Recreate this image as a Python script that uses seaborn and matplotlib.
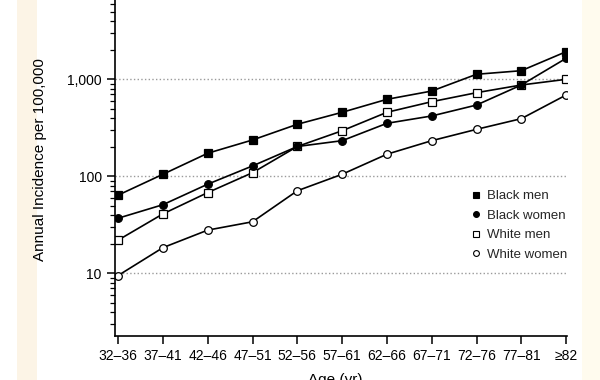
import pandas as pd
import matplotlib
matplotlib.use('Agg')
import matplotlib.pyplot as plt
import seaborn as sns
from matplotlib.lines import Line2D
from matplotlib.patches import Rectangle
from matplotlib.ticker import FixedLocator, FuncFormatter, LogLocator, NullFormatter

# data (annual incidence per 100,000)
ages = ['32–36', '37–41', '42–46', '47–51', '52–56', '57–61',
        '62–66', '67–71', '72–76', '77–81', '≥82']
black_men = [64, 105, 173, 237, 344, 457, 622, 757, 1127, 1227, 1926]
black_women = [37, 51, 83, 128, 203, 233, 352, 419, 543, 874, 1646]
white_men = [22, 41, 68, 109, 203, 295, 457, 588, 728, 874, 1000]
white_women = [9.5, 18.4, 27.9, 34, 71, 105, 169, 233, 305, 393, 689]
groups = ['Black men', 'Black women', 'White men', 'White women']

series = [black_men, black_women, white_men, white_women]
df = pd.concat([pd.DataFrame({'age': ages, 'incidence': vals, 'group': g})
                for g, vals in zip(groups, series)], ignore_index=True)

sns.set_style('ticks')
plt.rcParams['font.family'] = ['Liberation Sans', 'DejaVu Sans']

markers = {'Black men': 's', 'Black women': 'o', 'White men': 's', 'White women': 'o'}
faces = {'Black men': 'black', 'Black women': 'black', 'White men': 'white', 'White women': 'white'}

fig = plt.figure(figsize=(6, 3.8), dpi=100)
ax = fig.add_axes([115/600, 1 - 336/380, 452/600, 336/380])

# open-marker series first so filled markers sit on top where they meet
for g in ['White women', 'White men', 'Black women', 'Black men']:
    sns.lineplot(data=df[df.group == g], x='age', y='incidence', sort=False,
                 color='black', lw=1.2, marker=markers[g], markersize=5.5,
                 markerfacecolor=faces[g], markeredgecolor='black',
                 markeredgewidth=0.9, ax=ax, legend=False)

ax.set_yscale('log')
ax.set_ylim(2.26, 6570)
ax.set_xlim(-0.07, 10.02)
ax.yaxis.set_major_locator(FixedLocator([10, 100, 1000]))
ax.yaxis.set_major_formatter(FuncFormatter(lambda v, p: f'{v:,.0f}'))
ax.yaxis.set_minor_locator(LogLocator(base=10, subs=range(2, 10)))
ax.yaxis.set_minor_formatter(NullFormatter())
ax.grid(axis='y', which='major', linestyle=':', color='#9a9a9a', lw=1)

ax.tick_params(axis='both', which='major', length=6, width=1.1, labelsize=10,
               color='black', labelcolor='black')
ax.tick_params(axis='y', which='minor', length=3.5, width=0.9, color='black')
sns.despine(ax=ax)
for s in ['left', 'bottom']:
    ax.spines[s].set_color('black')
    ax.spines[s].set_linewidth(1.2)

ax.set_ylabel('Annual Incidence per 100,000', fontsize=11, color='black')
ax.yaxis.set_label_coords(-0.150, 0.524)
# the scanned page crops this label at the bottom edge
ax.set_xlabel('Age (yr)', fontsize=11, color='black')
ax.xaxis.set_label_coords(0.487, -0.110)

handles = [Line2D([], [], ls='none', marker=markers[g], markersize=4.2,
                  markerfacecolor=faces[g], markeredgecolor='black',
                  markeredgewidth=0.8, label=g) for g in groups]
ax.legend(handles=handles, loc='upper left', bbox_to_anchor=(0.785, 0.434),
          frameon=False, fontsize=9.5, borderpad=0, handlelength=1.0,
          handletextpad=0.3, labelspacing=0.55, borderaxespad=0)

# cream margins of the scanned page
fig.add_artist(Rectangle((17/600, 0), 20/600, 1, transform=fig.transFigure,
                         color='#fcf4e6', zorder=-1, lw=0))
fig.add_artist(Rectangle((582/600, 0), 18/600, 1, transform=fig.transFigure,
                         color='#fffbee', zorder=-1, lw=0))

fig.savefig('out.png', dpi=100, facecolor='white')
